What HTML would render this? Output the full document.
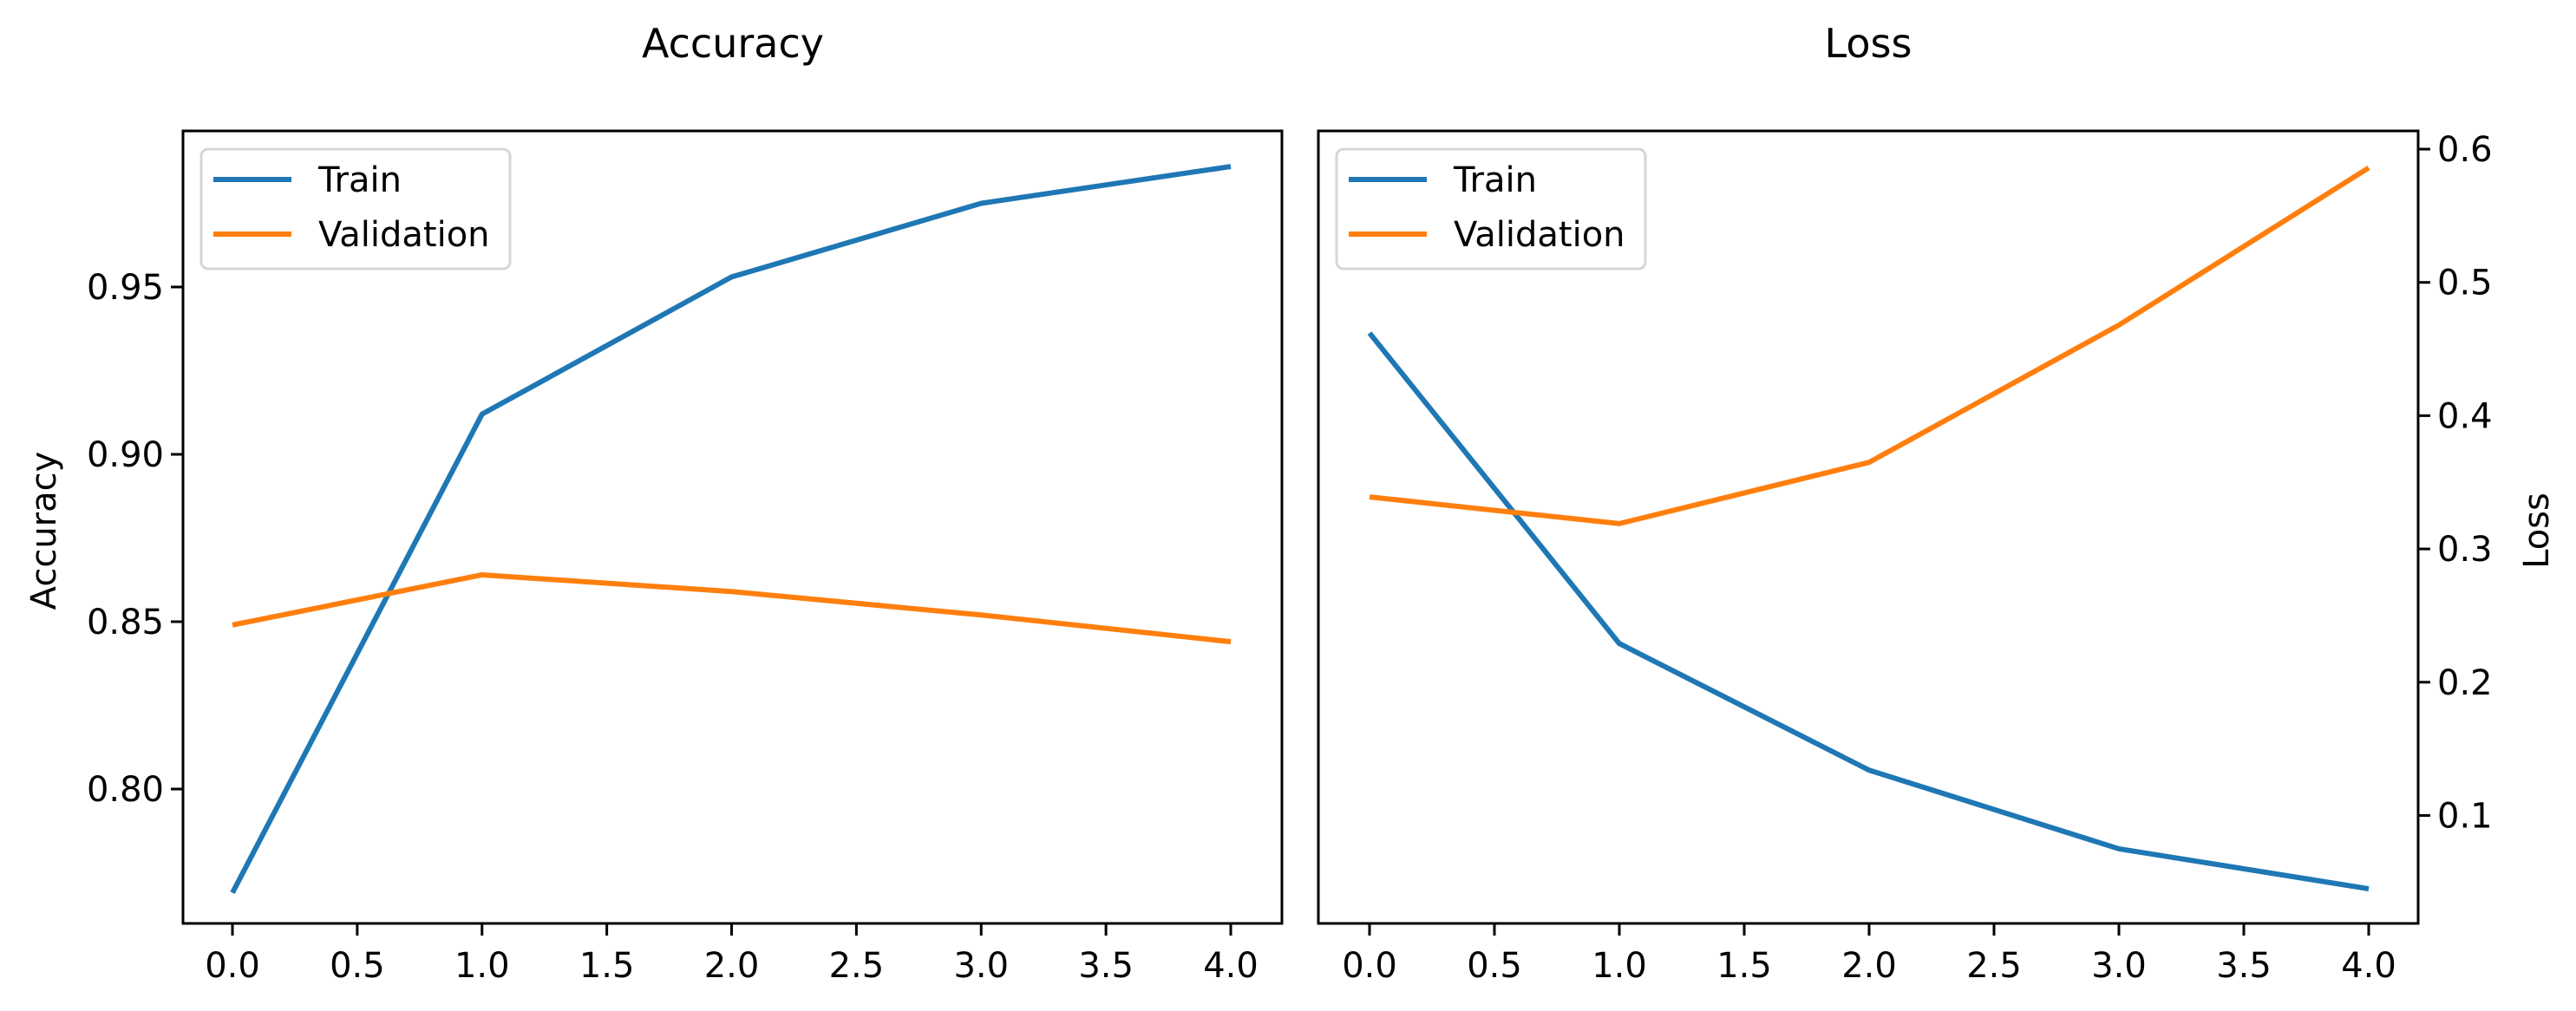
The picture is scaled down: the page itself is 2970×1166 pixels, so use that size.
<!DOCTYPE html>
<html><head><meta charset="utf-8"><style>
body{margin:0;background:#fff}
svg{display:block;font-family:"DejaVu Sans","Liberation Sans",sans-serif}
</style></head><body>
<svg id="c" width="2970" height="1166" xmlns="http://www.w3.org/2000/svg"></svg>
<script>
const epochs=[0,1,2,3,4];
const accTrain=[0.769,0.912,0.953,0.975,0.986];
const accVal=[0.849,0.864,0.859,0.852,0.844];
const lossTrain=[0.462,0.229,0.134,0.075,0.045];
const lossVal=[0.339,0.319,0.365,0.468,0.586];
const xTicks=[0,0.5,1,1.5,2,2.5,3,3.5,4];
const accTicks=[0.80,0.85,0.90,0.95];
const lossTicks=[0.1,0.2,0.3,0.4,0.5,0.6];
const NS="http://www.w3.org/2000/svg";
const svg=document.getElementById('c');
function mk(t,a,p){const e=document.createElementNS(NS,t);for(const k in a)e.setAttribute(k,a[k]);(p||svg).appendChild(e);return e;}
const TOP=151,BOT=1065;
const panels=[
 {name:'accuracy',L:211,R:1478,x0:268,x4:1419,y:v=>910-(v-0.8)*3860,ticks:accTicks,fmt:v=>v.toFixed(2),side:'left',tr:accTrain,va:accVal,title:'Accuracy',tx:845,ylab:'Accuracy'},
 {name:'loss',L:1520,R:2788,x0:1579,x4:2731,y:v=>172+(0.6-v)*1537,ticks:lossTicks,fmt:v=>v.toFixed(1),side:'right',tr:lossTrain,va:lossVal,title:'Loss',tx:2154,ylab:'Loss'}
];
panels.forEach(p=>{
 const g=mk('g',{});
 
 
 const xs=v=>p.x0+(v/4)*(p.x4-p.x0);
 [[p.tr,'#1f77b4','train'],[p.va,'#ff7f0e','validation']].forEach(([d,c,n])=>{
  const pl=mk('polyline',{points:d.map((v,i)=>xs(epochs[i])+','+p.y(v)).join(' '),fill:'none',stroke:c,'stroke-width':6,'stroke-linejoin':'round'},g);
  
  
 });
 const fr=mk('rect',{x:p.L,y:TOP,width:p.R-p.L,height:BOT-TOP,fill:'none',stroke:'#000','stroke-width':3},g);
 
 
 xTicks.forEach(t=>{
  const X=xs(t);
  mk('line',{x1:X,x2:X,y1:BOT,y2:BOT+14,stroke:'#000','stroke-width':3},g);
  const tx=mk('text',{x:X,y:BOT+62,'font-size':40,'text-anchor':'middle'},g);
  tx.textContent=t.toFixed(1);
  
  
 });
 p.ticks.forEach(t=>{
  const Y=p.y(t);
  if(p.side==='left'){
   mk('line',{x1:p.L-14,x2:p.L,y1:Y,y2:Y,stroke:'#000','stroke-width':3},g);
   const tx=mk('text',{x:p.L-22,y:Y+14,'font-size':40,'text-anchor':'end'},g);
   tx.textContent=p.fmt(t);
   
   
  }else{
   mk('line',{x1:p.R,x2:p.R+14,y1:Y,y2:Y,stroke:'#000','stroke-width':3},g);
   const tx=mk('text',{x:p.R+22,y:Y+14,'font-size':40,'text-anchor':'start'},g);
   tx.textContent=p.fmt(t);
   
   
  }
 });
 const ti=mk('text',{x:p.tx,y:66,'font-size':46,'text-anchor':'middle'},g);
 ti.textContent=p.title;
 
 
 const yx=p.side==='left'?64:2938;
 const yl=mk('text',{x:yx,y:612,'font-size':40,'text-anchor':'middle',transform:'rotate(-90 '+yx+' 612)'},g);
 yl.textContent=p.ylab;
 
 
 const lg=mk('g',{},g);
 
 
 const lx=p.L+21;
 mk('rect',{x:lx,y:172,width:356,height:138,rx:8,fill:'#fff','fill-opacity':0.8,stroke:'#d6d6d6','stroke-width':3},lg);
 [['Train','#1f77b4',207],['Validation','#ff7f0e',270]].forEach(([n,c,yy])=>{
  const e=mk('g',{},lg);
  
  
  mk('line',{x1:lx+14,x2:lx+104,y1:yy,y2:yy,stroke:c,'stroke-width':6},e);
  const t=mk('text',{x:lx+135,y:yy+14,'font-size':40},e);
  t.textContent=n;
 });
});
</script>
</body></html>
